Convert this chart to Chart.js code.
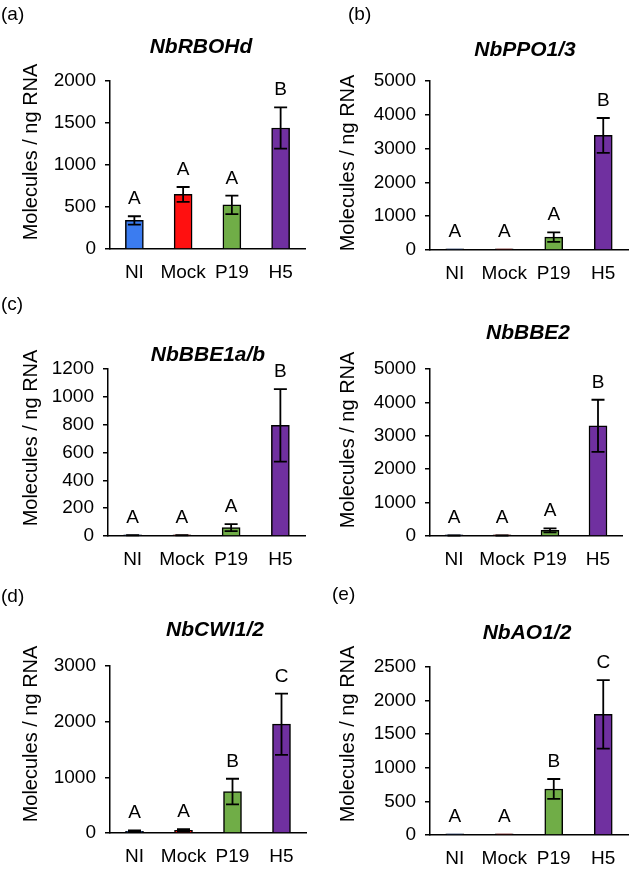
<!DOCTYPE html>
<html>
<head>
<meta charset="utf-8">
<script src="https://cdn.jsdelivr.net/npm/chart.js@4.4.0/dist/chart.umd.min.js"></script>
<style>
html, body { margin: 0; padding: 0; background: #fff; }
#wrap { position: relative; width: 630px; height: 872px; }
#wrap canvas { position: absolute; }
</style>
</head>
<body>
<div id="wrap"></div>
<script>
const groups = ['NI', 'Mock', 'P19', 'H5'];
const groupColors = ['#3b7cf0', '#ff1010', '#70ad47', '#7030a0'];

const panelTags = ['(a)', '(b)', '(c)', '', '(d)', '(e)'];
const genes = ['NbRBOHd', 'NbPPO1/3', 'NbBBE1a/b', 'NbBBE2', 'NbCWI1/2', 'NbAO1/2'];
const yMax = [2000, 5000, 1200, 5000, 3000, 2500];
const yStep = [500, 1000, 200, 1000, 1000, 500];

const rbohdMean = [340, 650, 525, 1440];
const rbohdErr = [50, 88, 110, 245];
const rbohdLetters = ['A', 'A', 'A', 'B'];

const ppoMean = [25, 25, 380, 3390];
const ppoErr = [0, 0, 140, 515];
const ppoLetters = ['A', 'A', 'A', 'B'];

const bbe1Mean = [5, 5, 60, 795];
const bbe1Err = [1, 1, 25, 260];
const bbe1Letters = ['A', 'A', 'A', 'B'];

const bbe2Mean = [15, 15, 170, 3300];
const bbe2Err = [5, 5, 60, 780];
const bbe2Letters = ['A', 'A', 'A', 'B'];

const cwiMean = [30, 50, 745, 1955];
const cwiErr = [15, 20, 230, 550];
const cwiLetters = ['A', 'A', 'B', 'C'];

const aoMean = [12, 12, 685, 1795];
const aoErr = [0, 0, 148, 510];
const aoLetters = ['A', 'A', 'B', 'C'];

const means = [rbohdMean, ppoMean, bbe1Mean, bbe2Mean, cwiMean, aoMean];
const errs = [rbohdErr, ppoErr, bbe1Err, bbe2Err, cwiErr, aoErr];
const letters = [rbohdLetters, ppoLetters, bbe1Letters, bbe2Letters, cwiLetters, aoLetters];

// where each panel sits on the page (pixels)
const layout = [
    { left: 0,   top: 0,   h: 290, axisX: 110, topY: 81, zeroY: 249, rightX: 305, titleX: 201, titleY: 47, tagX: 1,  tagY: 15, yTitleX: 31, yTitleY: 152 },
    { left: 315, top: 0,   h: 290, axisX: 115, topY: 81, zeroY: 250, rightX: 313, titleX: 210, titleY: 50, tagX: 33, tagY: 15, yTitleX: 33, yTitleY: 163 },
    { left: 0,   top: 290, h: 290, axisX: 108, topY: 79, zeroY: 246, rightX: 305, titleX: 208, titleY: 65, tagX: 1,  tagY: 15, yTitleX: 31, yTitleY: 148 },
    { left: 315, top: 290, h: 290, axisX: 115, topY: 79, zeroY: 246, rightX: 307, titleX: 213, titleY: 43, tagX: 1,  tagY: 15, yTitleX: 33, yTitleY: 150 },
    { left: 0,   top: 580, h: 292, axisX: 110, topY: 86, zeroY: 253, rightX: 306, titleX: 215, titleY: 50, tagX: 1,  tagY: 17, yTitleX: 31, yTitleY: 154 },
    { left: 315, top: 580, h: 292, axisX: 115, topY: 87, zeroY: 255, rightX: 313, titleX: 212, titleY: 53, tagX: 17, tagY: 15, yTitleX: 33, yTitleY: 154 }
];

const FONT = "'Liberation Sans', Arial, sans-serif";
const wrap = document.getElementById('wrap');

// error bars, significance letters, gene title, panel tag, y title
function extrasFor(p) {
    const L = p.L;
    return {
        id: 'extras',
        afterDatasetsDraw(chart) {
            const ctx = chart.ctx;
            const y = chart.scales.y;
            const meta = chart.getDatasetMeta(0);
            ctx.save();
            ctx.strokeStyle = '#000';
            ctx.fillStyle = '#000';
            ctx.lineWidth = 1.8;
            meta.data.forEach((bar, i) => {
                const m = p.mean[i], e = p.err[i];
                const x = bar.x;
                const yt = y.getPixelForValue(m + e);
                if (e > 0) {
                    const yb = y.getPixelForValue(Math.max(m - e, 0));
                    ctx.beginPath();
                    ctx.moveTo(x, yt); ctx.lineTo(x, yb);
                    ctx.moveTo(x - 6.5, yt); ctx.lineTo(x + 6.5, yt);
                    ctx.moveTo(x - 6.5, yb); ctx.lineTo(x + 6.5, yb);
                    ctx.stroke();
                }
                ctx.font = `19px ${FONT}`;
                ctx.textAlign = 'center';
                ctx.textBaseline = 'alphabetic';
                ctx.fillText(p.letters[i], x, Math.min(yt, L.zeroY) - 12);
            });

            ctx.font = `italic bold 21px ${FONT}`;
            ctx.textAlign = 'center';
            ctx.textBaseline = 'middle';
            ctx.fillText(p.gene, L.titleX, L.titleY);

            if (p.tag) {
                ctx.font = `19px ${FONT}`;
                ctx.textAlign = 'left';
                ctx.fillText(p.tag, L.tagX, L.tagY);
            }

            ctx.translate(L.yTitleX, L.yTitleY);
            ctx.rotate(-Math.PI / 2);
            ctx.font = `20px ${FONT}`;
            ctx.textAlign = 'center';
            ctx.fillText('Molecules / ng RNA', 0, 0);
            ctx.restore();
        }
    };
}

function makeChart(k) {
    const L = layout[k];
    const p = { L, mean: means[k], err: errs[k], letters: letters[k], gene: genes[k], tag: panelTags[k] };
    const c = document.createElement('canvas');
    c.width = 315;
    c.height = L.h;
    c.style.left = L.left + 'px';
    c.style.top = L.top + 'px';
    c.style.width = '315px';
    c.style.height = L.h + 'px';
    wrap.appendChild(c);

    const tickFont = { family: FONT, size: 19, lineHeight: 1.2 };
    new Chart(c, {
        type: 'bar',
        data: {
            labels: groups,
            datasets: [{
                data: p.mean,
                backgroundColor: groupColors,
                borderColor: '#000',
                borderWidth: 1.5,
                borderSkipped: 'start',
                barThickness: 18,
                minBarLength: 1.2
            }]
        },
        options: {
            responsive: false,
            animation: false,
            devicePixelRatio: 1,
            layout: { padding: { left: 0, right: 315 - L.rightX, top: L.topY, bottom: L.h - L.zeroY - 40 } },
            plugins: { legend: { display: false }, tooltip: { enabled: false } },
            scales: {
                x: {
                    grid: { display: false, drawTicks: false },
                    border: { display: true, color: '#000', width: 1.5 },
                    ticks: { font: tickFont, color: '#000', padding: 12, maxRotation: 0, autoSkip: false },
                    afterFit: s => { s.height = 40; }
                },
                y: {
                    min: 0,
                    max: yMax[k],
                    grid: { drawOnChartArea: false, drawTicks: true, tickLength: 5, color: '#000', lineWidth: 1.5 },
                    border: { display: true, color: '#000', width: 1.5 },
                    ticks: { stepSize: yStep[k], font: tickFont, color: '#000', padding: 9, callback: v => String(v) },
                    afterFit: s => { s.width = L.axisX; }
                }
            }
        },
        plugins: [extrasFor(p)]
    });
}

for (let k = 0; k < 6; k++) makeChart(k);
</script>
</body>
</html>
